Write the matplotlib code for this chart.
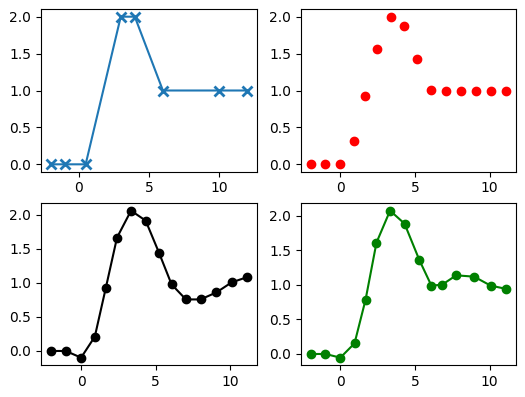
import matplotlib
matplotlib.use("Agg")
import matplotlib.pyplot as plt

# Top-left: original data
x_orig = [-2, -1, 0.5, 3, 4, 6, 10, 12]
y_orig = [0, 0, 0, 2, 2, 1, 1, 1]

# Top-right: red points
x_red = [-2, -1, 0, 0.89, 1.66, 2.45, 3.36, 4.25, 5.15, 6.09, 7.09, 8.07, 9.09, 10.09, 11.13]
y_red = [0, 0, 0, 0.315, 0.927, 1.562, 2.0, 1.877, 1.425, 1.005, 1.0, 1.0, 1.0, 1.0, 1.0]

# Bottom-left: black
x_blk = [-2.05, -1.03, 0, 0.92, 1.65, 2.41, 3.35, 4.33, 5.22, 6.07, 7.03, 8.01, 9.08, 10.09, 11.14]
y_blk = [0, 0, -0.098, 0.21, 0.917, 1.663, 2.058, 1.912, 1.444, 0.976, 0.756, 0.756, 0.859, 1.005, 1.083]

# Bottom-right: green
x_grn = [-2, -1, 0, 0.95, 1.69, 2.42, 3.33, 4.3, 5.3, 6.1, 6.82, 7.76, 8.96, 10.07, 11.13]
y_grn = [0, 0, -0.053, 0.154, 0.786, 1.61, 2.072, 1.884, 1.354, 0.988, 1.002, 1.137, 1.118, 0.988, 0.94]

W, H = 525, 397
fig = plt.figure(figsize=(W / 100, H / 100), dpi=100)

def ax_at(l, t, r, b):
    return fig.add_axes([l / W, 1 - b / H, (r - l) / W, (b - t) / H])

ax1 = ax_at(40.7, 9.3, 257, 171.7)
ax2 = ax_at(300.7, 9.3, 516.3, 171.7)
ax3 = ax_at(40.7, 203.3, 257, 365)
ax4 = ax_at(300.7, 203.3, 516.3, 365)

ax1.plot(x_orig, y_orig, '-x', color='#1f77b4', markersize=7, markeredgewidth=2)
ax2.plot(x_red, y_red, 'ro')
ax3.plot(x_blk, y_blk, 'ko-')
ax4.plot(x_grn, y_grn, 'go-')

for ax in (ax1, ax2, ax3, ax4):
    ax.set_yticks([0.0, 0.5, 1.0, 1.5, 2.0])
    ax.set_xticks([0, 5, 10])

fig.savefig("out.png", dpi=100)
